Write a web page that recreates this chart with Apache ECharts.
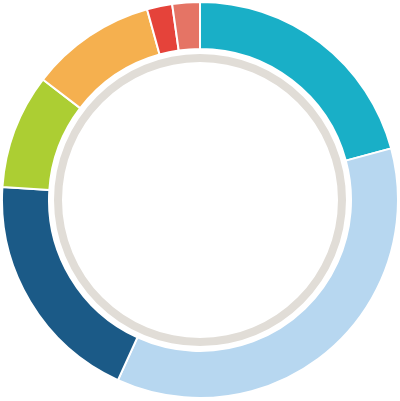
<!DOCTYPE html>
<html>
<head>
<meta charset="utf-8">
<script src="https://cdn.jsdelivr.net/npm/echarts@6/dist/echarts.min.js"></script>
<style>html,body{margin:0;padding:0;background:#fff;}#c{width:400px;height:401px;}</style>
</head>
<body>
<div id="c"></div>
<script>
const categories = ['A', 'B', 'C', 'D', 'E', 'F', 'G'];
const values = [20.8, 36.0, 19.25, 9.36, 10.28, 2.06, 2.25];
const colors = ['#19afc7', '#b7d7f0', '#1b5a87', '#acce33', '#f5b04f', '#e5433a', '#e57465'];
const ringValue = [1];

const chart = echarts.init(document.getElementById('c'));
chart.setOption({
  animation: false,
  series: [
    {
      type: 'pie',
      center: [200, 200],
      radius: [151, 198],
      startAngle: 90,
      clockwise: true,
      label: { show: false },
      labelLine: { show: false },
      itemStyle: { borderColor: '#ffffff', borderWidth: 2 },
      data: categories.map((c, i) => ({ name: c, value: values[i], itemStyle: { color: colors[i] } }))
    },
    {
      type: 'pie',
      silent: true,
      center: [200, 200],
      radius: [138, 146],
      label: { show: false },
      labelLine: { show: false },
      itemStyle: { color: '#e1ddd7' },
      data: ringValue.map(v => ({ value: v }))
    }
  ]
});
</script>
</body>
</html>
